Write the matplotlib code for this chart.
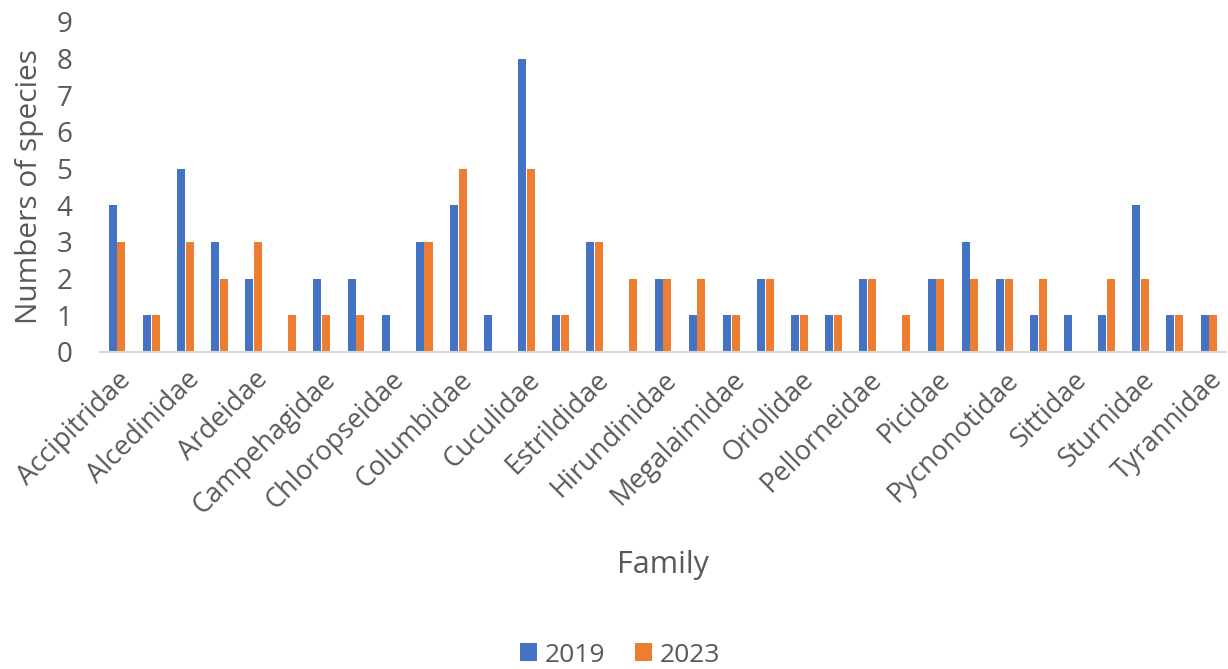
import numpy as np
import matplotlib.pyplot as plt

# bird families (only every other one is labelled on the axis)
families = [
    "Accipitridae", "Aegithinidae", "Alcedinidae", "Apodidae", "Ardeidae",
    "Artamidae", "Campehagidae", "Charadriidae", "Chloropseidae", "Cisticolidae",
    "Columbidae", "Corvidae", "Cuculidae", "Dicaeidae", "Estrildidae",
    "Falconidae", "Hirundinidae", "Laniidae", "Megalaimidae", "Nectariniidae",
    "Oriolidae", "Passeridae", "Pellorneidae", "Phasianidae", "Picidae",
    "Ploceidae", "Pycnonotidae", "Rallidae", "Sittidae", "Strigidae",
    "Sturnidae", "Timaliidae", "Tyrannidae",
]
species_2019 = [4, 1, 5, 3, 2, 0, 2, 2, 1, 3, 4, 1, 8, 1, 3, 0, 2,
                1, 1, 2, 1, 1, 2, 0, 2, 3, 2, 1, 1, 1, 4, 1, 1]
species_2023 = [3, 1, 3, 2, 3, 1, 1, 1, 0, 3, 5, 0, 5, 1, 3, 2, 2,
                2, 1, 2, 1, 1, 2, 1, 2, 2, 2, 2, 0, 2, 2, 1, 1]

BLUE = "#4472C4"
ORANGE = "#ED7D31"
TEXT = "#595959"

plt.rcParams["font.family"] = ["Open Sans", "DejaVu Sans"]

fig = plt.figure(figsize=(12.28, 6.69), dpi=100)
ax = fig.add_axes([100 / 1228, 1 - 352 / 669, 1126 / 1228, 330 / 669])

x = np.arange(len(families))
w = 0.235
ax.bar(x - w / 2 - 0.01, species_2019, w, color=BLUE, label="2019")
ax.bar(x + w / 2 + 0.01, species_2023, w, color=ORANGE, label="2023")

ax.set_xlim(-0.5, len(families) - 0.5)
ax.set_ylim(0, 9)
ax.set_yticks(range(10))
ax.tick_params(axis="y", length=0, labelsize=20, labelcolor=TEXT, pad=20)
ax.set_xticks(x[::2])
ax.set_xticklabels(families[::2], rotation=45, ha="right", va="top",
                   rotation_mode="anchor", fontsize=19.5, color=TEXT)
ax.tick_params(axis="x", length=0, pad=10)

for s in ["top", "right", "left"]:
    ax.spines[s].set_visible(False)
ax.spines["bottom"].set_color("#D9D9D9")
ax.spines["bottom"].set_linewidth(1.5)

fig.text(30 / 1228, 1 - 186 / 669, "Numbers of species", rotation=90,
         ha="center", va="center", fontsize=21.5, color=TEXT)
fig.text(663 / 1228, 1 - 565 / 669, "Family", ha="center", va="center",
         fontsize=22, color=TEXT)

fig.legend(loc="center", bbox_to_anchor=(620 / 1228, 1 - 655 / 669), ncol=2,
           frameon=False, fontsize=19, labelcolor=TEXT, handlelength=0.65,
           handleheight=0.65, handletextpad=0.3, columnspacing=1.1)

fig.savefig("out.png", dpi=100)
